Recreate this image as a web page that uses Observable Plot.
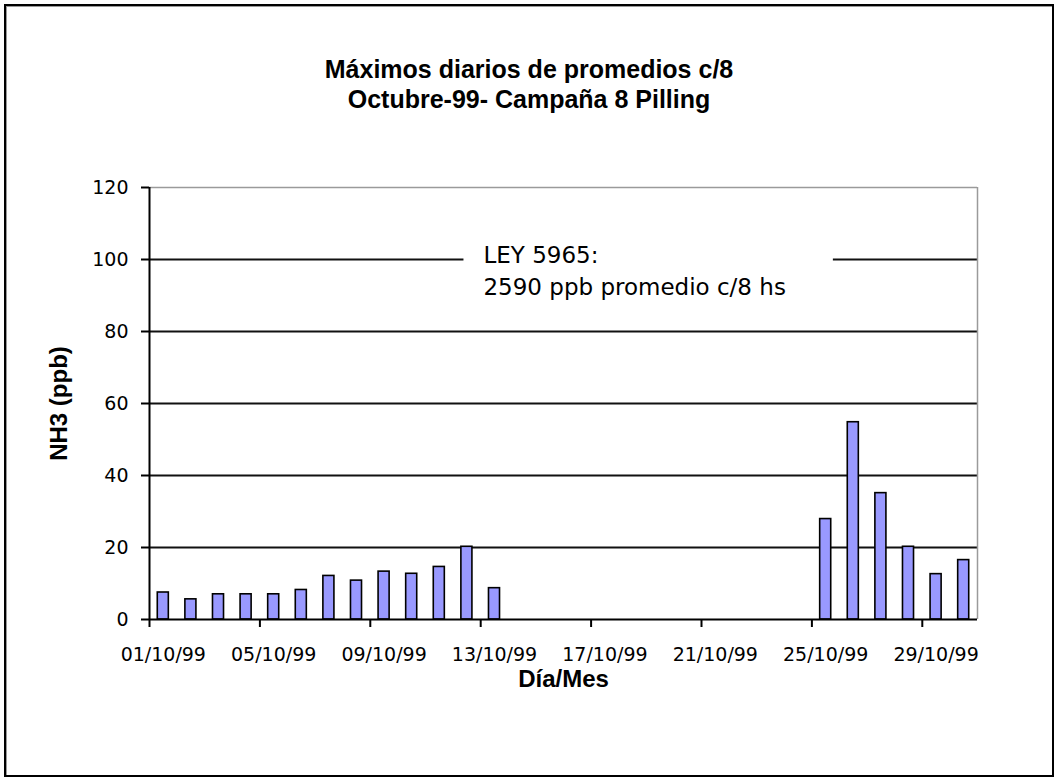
<!DOCTYPE html>
<html>
<head>
<meta charset="utf-8">
<script src="https://cdn.jsdelivr.net/npm/d3@7"></script>
<script src="https://cdn.jsdelivr.net/npm/@observablehq/plot@0.6"></script>
<style>
  html, body { margin: 0; padding: 0; background: #fff; }
  #wrap { position: relative; width: 1059px; height: 783px; overflow: hidden; background: #fff; }
  #frame { position: absolute; left: 4px; top: 4px; width: 1046px; height: 769px; border: 2px solid #000; box-shadow: inset 1px 1px 0 #999; }
  #title { position: absolute; left: 4px; top: 54px; width: 1050px; text-align: center;
           font: bold 25px "Liberation Sans", Arial, sans-serif; line-height: 30px; color: #000; }
  #chart { position: absolute; left: 0; top: 120px; }
</style>
</head>
<body>
<div id="wrap">
  <div id="frame"></div>
  <div id="title">Máximos diarios de promedios c/8<br>Octubre-99- Campaña 8 Pilling</div>
  <div id="chart"></div>
</div>
<script>
// Categories (one per day of October 1999)
const days = ["01/10/99","02/10/99","03/10/99","04/10/99","05/10/99","06/10/99","07/10/99","08/10/99",
              "09/10/99","10/10/99","11/10/99","12/10/99","13/10/99","14/10/99","15/10/99","16/10/99",
              "17/10/99","18/10/99","19/10/99","20/10/99","21/10/99","22/10/99","23/10/99","24/10/99",
              "25/10/99","26/10/99","27/10/99","28/10/99","29/10/99","30/10/99"];
// Daily maxima of 8-h averages, NH3 (ppb); null = no data
const values = [7.5, 5.6, 7.0, 7.0, 7.0, 8.2, 12.1, 10.8, 13.3, 12.7, 14.6, 20.2, 8.7,
                null, null, null, null, null, null, null, null, null, null, null,
                27.9, 54.8, 35.1, 20.2, 12.6, 16.5];
const yTicks = [0, 20, 40, 60, 80, 100, 120];
const gridValues = [20, 40, 60, 80, 100];
const xTickLabels = ["01/10/99","05/10/99","09/10/99","13/10/99","17/10/99","21/10/99","25/10/99","29/10/99"];
const yTitle = "NH3 (ppb)";
const xTitle = "Día/Mes";
const noteText = "LEY 5965:\n2590 ppb promedio c/8 hs";
const noteAt = {x: 12.1, y: 97.5};

const data = days.map((d, i) => ({i, day: d, value: values[i]})).filter(d => d.value != null);
const tickIdx = xTickLabels.map(l => days.indexOf(l));
const titleFont = "'Liberation Sans', Arial, sans-serif";

const plot = Plot.plot({
  width: 1059,
  height: 663,
  marginTop: 67,
  marginBottom: 164,
  marginLeft: 149,
  marginRight: 82,
  style: {fontFamily: "'DejaVu Sans', sans-serif", fontSize: "19px", color: "#000", background: "transparent"},
  x: {type: "linear", domain: [0, days.length]},
  y: {domain: [0, 120]},
  marks: [
    Plot.ruleY(gridValues, {stroke: "#111", strokeWidth: 2}),
    Plot.ruleY([120], {stroke: "#9a9a9a", strokeWidth: 1.5}),
    Plot.ruleX([days.length], {stroke: "#9a9a9a", strokeWidth: 1.5}),
    Plot.rectY(data, {x1: d => d.i + 0.3, x2: d => d.i + 0.7, y: "value", fill: "#9999FF", stroke: "#000", strokeWidth: 1.6}),
    Plot.ruleY([0], {stroke: "#000", strokeWidth: 2}),
    Plot.ruleX([0], {stroke: "#000", strokeWidth: 2}),
    Plot.axisY({ticks: yTicks, tickSize: 8, tickPadding: 13, tickFormat: d => String(d), label: null, stroke: "#000", strokeWidth: 2}),
    Plot.axisX({ticks: tickIdx, tickSize: 8, tickFormat: () => "", label: null, stroke: "#000", strokeWidth: 2}),
    Plot.axisX({ticks: tickIdx.map(i => i + 0.5), tickSize: 0, tickPadding: 28, tickFormat: v => days[Math.floor(v)], label: null}),
    Plot.text([yTitle], {frameAnchor: "left", rotate: -90, dx: -90, text: d => d, textAnchor: "middle", lineAnchor: "middle",
                         fontWeight: "bold", fontSize: 24, fontFamily: titleFont}),
    Plot.text([xTitle], {frameAnchor: "bottom", dy: 60, text: d => d, textAnchor: "middle", lineAnchor: "middle",
                         fontWeight: "bold", fontSize: 24, fontFamily: titleFont}),
    Plot.text([noteAt], {x: "x", y: "y", text: () => noteText, textAnchor: "start", lineAnchor: "middle",
                         lineHeight: 1.39, fontSize: 23, fill: "#000", className: "note"})
  ]
});
document.getElementById("chart").appendChild(plot);

// White text-box behind the note (Excel text box), sized from the rendered text
const noteEl = plot.querySelector("g.note text");
if (noteEl) {
  const bb = noteEl.getBBox();
  const box = document.createElementNS("http://www.w3.org/2000/svg", "rect");
  box.setAttribute("x", bb.x - 20);
  box.setAttribute("y", bb.y - 6);
  box.setAttribute("width", bb.width + 20 + 47);
  box.setAttribute("height", bb.height + 12);
  box.setAttribute("fill", "#fff");
  box.setAttribute("stroke", "none");
  const tr = noteEl.getAttribute("transform");
  if (tr) box.setAttribute("transform", tr);
  noteEl.parentNode.insertBefore(box, noteEl);
}
</script>
</body>
</html>
